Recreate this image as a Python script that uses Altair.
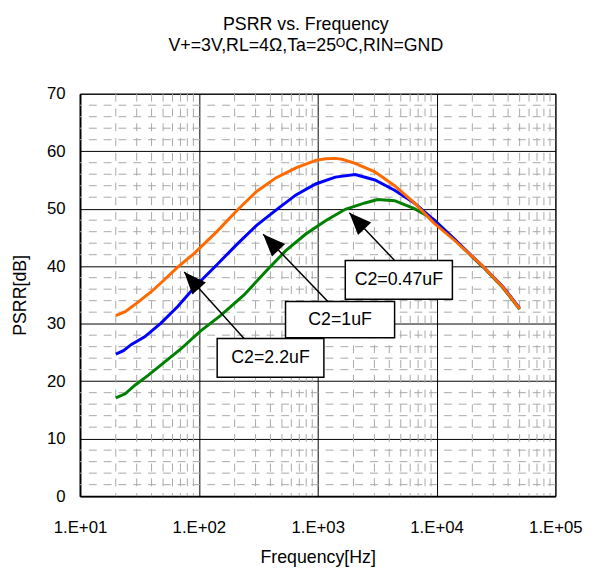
import math
import pandas as pd
import altair as alt

# ---------------- data ----------------
freq_2u2 = [20, 24, 31, 40, 51, 66, 91, 143, 209, 306, 448, 656, 961, 1164, 1400,
            1603, 2065, 3027, 4436, 6500, 9530, 13960, 20470, 24770, 36300, 50000]
psrr_2u2 = [31.4, 32.1, 33.8, 35.6, 37.6, 39.8, 42.2, 46.1, 49.7, 53.0, 55.4, 57.1, 58.4, 58.7, 58.75,
            58.6, 57.9, 56.4, 54.0, 51.0, 47.5, 44.6, 41.5, 39.9, 36.3, 32.6]

freq_1u = [20, 23.2, 27.1, 35, 48, 66.4, 93.5, 142.6, 209, 306, 448, 656, 961, 1407,
           2065, 3027, 4436, 6500, 9530, 13960, 20470, 24770, 36300, 50000]
psrr_1u = [24.7, 25.3, 26.4, 27.7, 30.1, 33.0, 36.5, 40.3, 43.8, 47.1, 49.8, 52.4, 54.3, 55.5,
           55.95, 55.0, 53.2, 51.0, 48.0, 44.8, 41.5, 39.9, 36.4, 32.7]

freq_047 = [20, 24, 29, 37.4, 51.4, 70.5, 103, 152, 240, 370, 539, 794, 1164, 1706,
            2500, 3190, 4436, 6500, 9530, 13960, 20470, 24770, 36300, 50000]
psrr_047 = [17.1, 17.8, 19.3, 21.0, 23.3, 25.6, 28.7, 31.4, 35.0, 39.2, 42.7, 45.6, 47.9, 49.9,
            51.0, 51.6, 51.4, 50.0, 48.1, 44.8, 41.4, 39.8, 36.2, 32.5]

# annotation boxes and arrows (data coordinates: Hz, dB)
ann_labels = ["C2=0.47uF", "C2=1uF", "C2=2.2uF"]
box_f1 = [1706, 536, 142.6]
box_f2 = [13590, 4436, 1127]
box_y1 = [34.25, 27.56, 20.70]
box_y2 = [41.0, 33.84, 27.44]
arrow_f0 = [4436, 1217, 240]
arrow_y0 = [41.0, 33.84, 27.44]
tip_f = [1845, 347.6, 75.3]
tip_y = [49.3, 45.57, 38.99]

major_freqs = [10, 100, 1000, 10000, 100000]
major_psrr = [0, 10, 20, 30, 40, 50, 60, 70]
minor_freqs = [k * 10 ** d for d in range(1, 5) for k in range(2, 10)]
minor_psrr = [v for v in range(2, 70, 2) if v % 10]

# ---------------- layout ----------------
PW, PH = 482, 408
TOTAL_W, TOTAL_H = 585, 564
PAD_L, PAD_T = 73, 83

FONT = "Liberation Sans"

xs = alt.Scale(type="log", domain=[10, 100000], nice=False)
ys = alt.Scale(domain=[0, 70], nice=False)

x_axis = alt.Axis(values=major_freqs,
                  labelExpr="'1.E+0' + round(log(datum.value)/LN10)",
                  grid=True, gridColor="black", gridWidth=1, gridOpacity=1,
                  domainColor="black", domainWidth=2, ticks=False,
                  labelFlush=False, labelOverlap=False, labelPadding=24,
                  labelFontSize=17, labelColor="black", labelFont=FONT,
                  title="Frequency[Hz]", titleFontSize=18, titleFontWeight="normal",
                  titleColor="black", titleFont=FONT, titlePadding=13)
y_axis = alt.Axis(values=major_psrr,
                  grid=True, gridColor="black", gridWidth=1, gridOpacity=1,
                  domainColor="black", domainWidth=2, ticks=False,
                  labelFlush=False, labelOverlap=False, labelPadding=15,
                  labelFontSize=17, labelColor="black", labelFont=FONT,
                  title="PSRR[dB]", titleFontSize=18, titleFontWeight="normal",
                  titleColor="black", titleFont=FONT, titlePadding=17)


def X(field):
    return alt.X(field, type="quantitative", scale=xs, axis=x_axis)


def Y(field):
    return alt.Y(field, type="quantitative", scale=ys, axis=y_axis)


minor_x = alt.Chart(pd.DataFrame({"f": minor_freqs})).mark_rule(
    color="#a8a8a8", strokeWidth=1, strokeDash=[8, 7]).encode(x=X("f"))
minor_y = alt.Chart(pd.DataFrame({"v": minor_psrr})).mark_rule(
    color="#a8a8a8", strokeWidth=1, strokeDash=[8, 7]).encode(y=Y("v"))


def curve(freqs, vals, color):
    return alt.Chart(pd.DataFrame({"f": freqs, "v": vals})).mark_line(
        color=color, strokeWidth=3).encode(x=X("f"), y=Y("v"))


green = curve(freq_047, psrr_047, "#008000")
blue = curve(freq_1u, psrr_1u, "#0000FF")
orange = curve(freq_2u2, psrr_2u2, "#FF6A00")


def px(f):
    return PW * (math.log10(f) - 1) / 4


def py(v):
    return PH * (1 - v / 70)


angles = []
for f0, y0, f1, y1 in zip(arrow_f0, arrow_y0, tip_f, tip_y):
    dx = px(f1) - px(f0)
    dy = py(y1) - py(y0)
    angles.append(math.degrees(math.atan2(dx, -dy)) % 360)

ann = pd.DataFrame({
    "label": ann_labels,
    "b1": box_f1, "b2": box_f2, "y1": box_y1, "y2": box_y2,
    "tf": [math.sqrt(a * b) for a, b in zip(box_f1, box_f2)],
    "ty": [(a + b) / 2 for a, b in zip(box_y1, box_y2)],
    "f0": arrow_f0, "a0": arrow_y0, "f1": tip_f, "a1": tip_y,
    "ang": angles,
})

arrows = alt.Chart(ann).mark_rule(color="black", strokeWidth=1.5).encode(
    x=X("f0"), x2="f1", y=Y("a0"), y2="a1")
heads = alt.Chart(ann).mark_point(
    shape="M0,0L-0.9,2.2L0.9,2.2Z", filled=True, color="black", opacity=1,
    size=420, strokeWidth=0).encode(
    x=X("f1"), y=Y("a1"), angle=alt.Angle("ang:Q", scale=None))
boxes = alt.Chart(ann).mark_rect(fill="white", stroke="black", strokeWidth=1.5).encode(
    x=X("b1"), x2="b2", y=Y("y1"), y2="y2")
texts = alt.Chart(ann).mark_text(fontSize=18, color="black", font=FONT).encode(
    x=X("tf"), y=Y("ty"), text="label:N")

chart = alt.layer(minor_x, minor_y, green, blue, orange, arrows, heads, boxes, texts).properties(
    width=PW, height=PH,
    title=alt.TitleParams(text="PSRR vs. Frequency",
                          subtitle="V+=3V,RL=4Ω,Ta=25ᴼC,RIN=GND",
                          font=FONT, subtitleFont=FONT,
                          fontSize=18, subtitleFontSize=18, fontWeight="normal",
                          color="black", subtitleColor="black",
                          anchor="middle", offset=30, dx=-12, subtitlePadding=4),
    autosize=alt.AutoSizeParams(type="none"),
    padding={"left": PAD_L, "top": PAD_T,
             "right": TOTAL_W - PAD_L - PW, "bottom": TOTAL_H - PAD_T - PH},
).configure(font=FONT).configure_view(stroke="black", strokeWidth=1)

chart.save("out.html", embed_options={"renderer": "svg", "actions": False})
